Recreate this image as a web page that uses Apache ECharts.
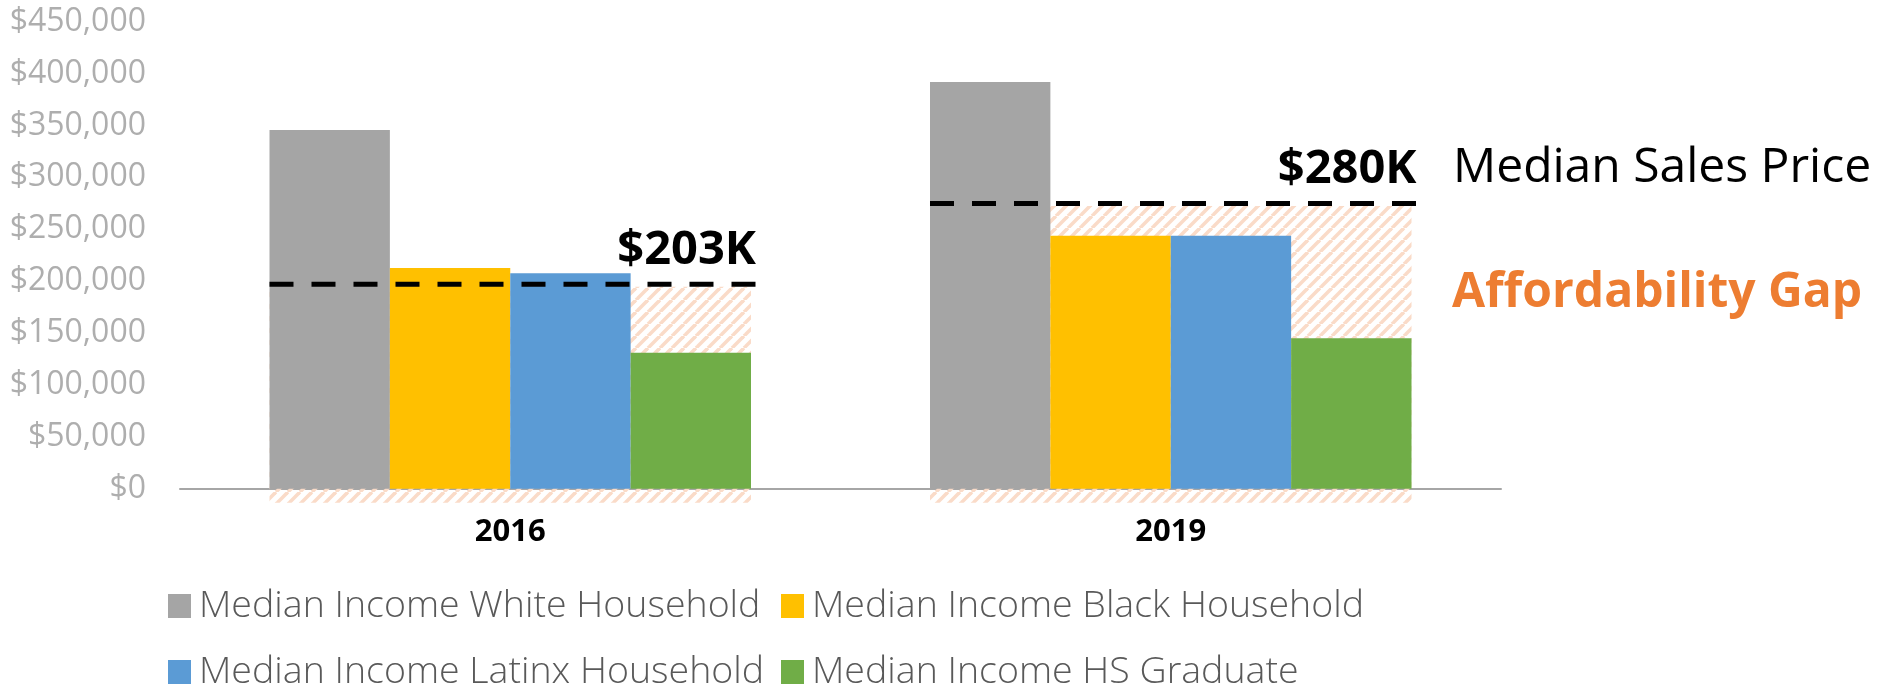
<!DOCTYPE html>
<html>
<head>
<meta charset="utf-8">
<title>Affordability Gap</title>
<script src="https://cdn.jsdelivr.net/npm/echarts@6/dist/echarts.min.js"></script>
<style>
	html, body { margin: 0; padding: 0; background: #fff; }
	#chart { width: 1878px; height: 688px; }
</style>
</head>
<body>
<div id="chart"></div>
<script>
// data
const years = ['2016', '2019']
const seriesNames = [
	'Median Income White Household',
	'Median Income Black Household',
	'Median Income Latinx Household',
	'Median Income HS Graduate',
]
const whiteIncome = [345600, 391800]
const blackIncome = [212700, 243700]
const latinxIncome = [207500, 243700]
const hsGradIncome = [131000, 144900]
// where the dashed median sales price line sits, and its label
const salesPrice = [197000, 274900]
const salesPriceLabels = ['$203K', '$280K']
// hatch runs a little below the axis
const hatchFloor = -13500
const yMin = 0
const yMax = 450000
const yStep = 50000

const colors = ['#A5A5A5', '#FFC000', '#5B9BD5', '#70AD47']
const font = '"Open Sans", "Noto Sans", sans-serif'
const groupShare = 0.729 // part of the category band used by the 4 bars

// diagonal stripe pattern for the gap area
function stripePattern() {
	const c = document.createElement('canvas')
	c.width = 12
	c.height = 12
	const ctx = c.getContext('2d')
	ctx.strokeStyle = '#FADBC8'
	ctx.lineWidth = 3.6
	;[-12, 0, 12].forEach((k) => {
		ctx.beginPath()
		ctx.moveTo(k, 12)
		ctx.lineTo(k + 12, 0)
		ctx.stroke()
	})
	return c
}
const stripes = stripePattern()

const chart = echarts.init(document.getElementById('chart'))

const barSeries = [whiteIncome, blackIncome, latinxIncome, hsGradIncome].map((d, i) => ({
	name: seriesNames[i],
	type: 'bar',
	data: d,
	barGap: '0%',
	barCategoryGap: ((1 - groupShare) * 100).toFixed(1) + '%',
	itemStyle: { color: colors[i] },
	z: 3,
}))

const legendText = {
	fontSize: 37.5,
	color: '#595959',
	fontFamily: font,
	fontWeight: 300,
	width: 572,
	padding: [0, 0, 0, 3],
	lineHeight: 40,
}

const option = {
	animation: false,
	textStyle: { fontFamily: font },
	grid: {
		left: 180,
		right: 377,
		top: 21.7,
		bottom: 199.3,
		containLabel: false,
	},
	xAxis: {
		type: 'category',
		data: years,
		axisLine: { lineStyle: { color: '#A6A6A6', width: 2 } },
		axisTick: { show: false },
		axisLabel: {
			margin: 28,
			color: '#000',
			fontSize: 31,
			fontWeight: 'bold',
			fontFamily: font,
		},
	},
	yAxis: {
		type: 'value',
		min: yMin,
		max: yMax,
		interval: yStep,
		splitLine: { show: false },
		axisLine: { show: false },
		axisTick: { show: false },
		axisLabel: {
			margin: 34,
			color: '#AEAEAE',
			fontSize: 32,
			fontFamily: font,
			formatter: (v) => '$' + v.toLocaleString('en-US'),
		},
	},
	legend: [
		{
			data: seriesNames.slice(0, 2),
			left: 168,
			top: 586,
			padding: 0,
			itemWidth: 23,
			itemHeight: 24,
			itemGap: 10,
			icon: 'rect',
			selectedMode: false,
			textStyle: legendText,
		},
		{
			data: seriesNames.slice(2, 4),
			left: 168,
			top: 652,
			padding: 0,
			itemWidth: 23,
			itemHeight: 24,
			itemGap: 10,
			icon: 'rect',
			selectedMode: false,
			textStyle: legendText,
		},
	],
	graphic: [
		{
			type: 'text',
			left: 1453,
			top: 144,
			style: { text: 'Median Sales Price', fill: '#000', font: '48px ' + font },
		},
		{
			type: 'text',
			left: 1452,
			top: 269,
			style: { text: 'Affordability Gap', fill: '#ED7D31', font: 'bold 48px ' + font },
		},
	],
	series: [
		// hatched gap area behind the bars
		{
			type: 'custom',
			z: 1,
			clip: false,
			silent: true,
			data: years.map((y, i) => [i, salesPrice[i]]),
			renderItem(params, api) {
				const cx = api.coord([api.value(0), 0])[0]
				const w = api.size([1, 0])[0] * groupShare
				const top = api.coord([api.value(0), api.value(1)])[1] + 2.5
				const bottom = api.coord([api.value(0), hatchFloor])[1]
				return {
					type: 'rect',
					shape: { x: cx - w / 2, y: top, width: w, height: bottom - top },
					style: { fill: { image: stripes, repeat: 'repeat' } },
				}
			},
		},
		...barSeries,
		// dashed median sales price line with its value
		{
			type: 'custom',
			z: 5,
			clip: false,
			silent: true,
			data: years.map((y, i) => [i, salesPrice[i]]),
			renderItem(params, api) {
				const cx = api.coord([api.value(0), 0])[0]
				const w = api.size([1, 0])[0] * groupShare
				const y = api.coord([api.value(0), api.value(1)])[1]
				const x1 = cx - w / 2
				const x2 = cx + w / 2 + 5
				return {
					type: 'group',
					children: [
						{
							type: 'line',
							shape: { x1: x1, y1: y, x2: x2, y2: y },
							style: { stroke: '#000', lineWidth: 5, lineDash: [24, 18] },
						},
						{
							type: 'text',
							style: {
								text: salesPriceLabels[params.dataIndex],
								x: x2,
								y: y - 34,
								align: 'right',
								verticalAlign: 'middle',
								fill: '#000',
								font: 'bold 47px ' + font,
							},
						},
					],
				}
			},
		},
	],
}

chart.setOption(option)
window.addEventListener('resize', chart.resize)
</script>
</body>
</html>
